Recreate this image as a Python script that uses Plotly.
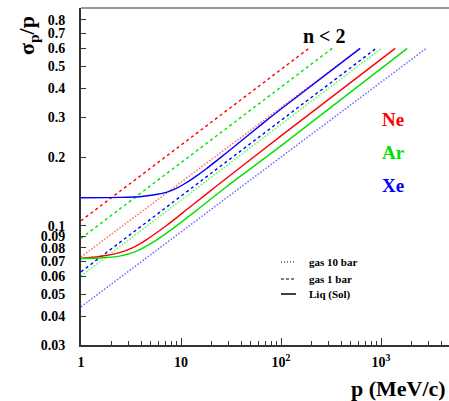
import plotly.graph_objects as go

# ---- data: momentum resolution sigma_p/p versus momentum p (MeV/c) ----
# gas at 10 bar (dotted), gas at 1 bar (dashed): straight power-law lines
ne_gas10_p = [1, 619]
ne_gas10_v = [0.073, 0.60]
ar_gas10_p = [1, 1005]
ar_gas10_v = [0.0602, 0.60]
xe_gas10_p = [1, 2832]
xe_gas10_v = [0.0441, 0.60]

ne_gas1_p = [1, 190]
ne_gas1_v = [0.1052, 0.60]
ar_gas1_p = [1, 325]
ar_gas1_v = [0.0881, 0.60]
xe_gas1_p = [1, 895]
xe_gas1_v = [0.0628, 0.60]

# liquid / solid (solid lines): scattering floor then rise
ne_liq_p = [1, 1.53, 2.43, 3.30, 4.49, 7.11, 12.2, 22.5, 100, 1387]
ne_liq_v = [0.0719, 0.0733, 0.0762, 0.0802, 0.0868, 0.1000, 0.1205, 0.1490, 0.248, 0.60]
ar_liq_p = [1, 1.53, 2.43, 3.56, 5.22, 8.28, 14.2, 28.3, 100, 1828]
ar_liq_v = [0.0719, 0.0722, 0.0736, 0.0772, 0.0845, 0.0972, 0.1165, 0.1480, 0.224, 0.60]
xe_liq_p = [1, 2.43, 3.84, 5.23, 7.13, 8.98, 11.3, 14.2, 17.8, 24.3, 30.5, 65.8, 100, 619]
xe_liq_v = [0.1327, 0.1332, 0.1341, 0.1364, 0.1401, 0.1459, 0.1544, 0.1652, 0.1775,
            0.1975, 0.2140, 0.2812, 0.325, 0.60]

y_tick_vals = [0.03, 0.04, 0.05, 0.06, 0.07, 0.08, 0.09, 0.1, 0.2, 0.3, 0.4, 0.5, 0.6, 0.7, 0.8]
y_tick_text = ["0.03", "0.04", "0.05", "0.06", "0.07", "0.08", "0.09", "0.1",
               "0.2", "0.3", "0.4", "0.5", "0.6", "0.7", "0.8"]
x_tick_vals = [1, 10, 100, 1000]
x_tick_text = ["1", "10", "10<sup>2</sup>", "10<sup>3</sup>"]

legend_labels = ["gas 10 bar", "gas 1 bar", "Liq (Sol)"]
gas_labels = ["Ne", "Ar", "Xe"]

# ---- figure geometry ----
W, H = 449, 401
L, R, T, B = 81, 0, 8, 56
PW, PH = W - L - R, H - T - B

RED, GREEN, BLUE = "#ff0000", "#00e000", "#0000ff"
RED_L, GREEN_L, BLUE_L = "#ff7070", "#55ff55", "#7070ff"
SERIF = "Liberation Serif"


def px_x(x):
    return (x - L) / PW


def px_y(y):
    return (H - B - y) / PH


fig = go.Figure()


def add(p, v, color, dash, width, shape="linear"):
    fig.add_trace(go.Scatter(x=p, y=v, mode="lines", showlegend=False,
                             hoverinfo="skip",
                             line=dict(color=color, dash=dash, width=width,
                                       shape=shape, smoothing=0.8)))


# gas 10 bar
add(ne_gas10_p, ne_gas10_v, RED_L, "1.6px,1.6px", 1.5)
add(ar_gas10_p, ar_gas10_v, GREEN_L, "1.6px,1.6px", 1.5)
add(xe_gas10_p, xe_gas10_v, BLUE_L, "1.6px,1.6px", 1.5)
# gas 1 bar
add(ne_gas1_p, ne_gas1_v, RED, "3px,3px", 1.4)
add(ar_gas1_p, ar_gas1_v, GREEN, "3px,3px", 1.4)
add(xe_gas1_p, xe_gas1_v, BLUE, "3px,3px", 1.4)
# liquid / solid
add(ne_liq_p, ne_liq_v, RED, "solid", 1.4, "spline")
add(ar_liq_p, ar_liq_v, GREEN, "solid", 1.4, "spline")
add(xe_liq_p, xe_liq_v, BLUE, "solid", 1.4, "spline")

tick_font = dict(family=SERIF, size=14, color="black", weight="bold")

fig.update_xaxes(type="log", range=[0, PW / 100.0],
                 tickvals=x_tick_vals, ticktext=x_tick_text,
                 tickfont=tick_font, ticks="inside", ticklen=7,
                 tickcolor="#333", tickwidth=1,
                 minor=dict(ticks="inside", ticklen=4, tickcolor="#333",
                            dtick="D1", showgrid=False),
                 showline=True, linecolor="#333", linewidth=2,
                 showgrid=False, zeroline=False, ticklabelstandoff=3)

fig.update_yaxes(type="log", range=[-1.5229, -1.5229 + PH / 228.0],
                 tickvals=y_tick_vals, ticktext=y_tick_text,
                 tickfont=tick_font, ticks="inside", ticklen=5,
                 tickcolor="#333", tickwidth=1,
                 showline=True, linecolor="#333", linewidth=2,
                 showgrid=False, zeroline=False, ticklabelstandoff=11)

# top frame line
fig.add_shape(type="line", xref="paper", yref="paper", x0=0, x1=1, y0=1, y1=1,
              line=dict(color="#333", width=1.2))

# legend for line styles
legend_rows = [(262, "1px,2px", 1.0), (279, "3px,2px", 1.0), (294, "solid", 1.5)]
for (yy, dash, wd), lab in zip(legend_rows, legend_labels):
    fig.add_shape(type="line", xref="paper", yref="paper",
                  x0=px_x(281), x1=px_x(296), y0=px_y(yy), y1=px_y(yy),
                  line=dict(color="black", dash=dash, width=wd))
    fig.add_annotation(xref="paper", yref="paper", x=px_x(307), y=px_y(yy),
                       text=lab, showarrow=False, xanchor="left", yanchor="middle",
                       font=dict(family=SERIF, size=11, color="black", weight="bold"))

# gas name labels
for (yy, col), lab in zip([(119, RED), (152, GREEN), (185, BLUE)], gas_labels):
    fig.add_annotation(xref="paper", yref="paper", x=px_x(393), y=px_y(yy),
                       text=lab, showarrow=False, xanchor="center", yanchor="middle",
                       font=dict(family=SERIF, size=19, color=col, weight="bold"))

fig.add_annotation(xref="paper", yref="paper", x=px_x(324), y=px_y(36),
                   text="n &lt; 2", showarrow=False, xanchor="center", yanchor="middle",
                   font=dict(family=SERIF, size=20, color="black", weight="bold"))

# axis titles
fig.add_annotation(xref="paper", yref="paper", x=px_x(448), y=px_y(388),
                   text="p (MeV/c)", showarrow=False, xanchor="right", yanchor="middle",
                   font=dict(family=SERIF, size=22, color="black", weight="bold"))
fig.add_annotation(xref="paper", yref="paper", x=px_x(28), y=px_y(36),
                   text="σ<sub>p</sub>/p", showarrow=False, textangle=-90,
                   xanchor="center", yanchor="middle",
                   font=dict(family=SERIF, size=22, color="black", weight="bold"))

fig.update_layout(width=W, height=H,
                  margin=dict(l=L, r=R, t=T, b=B, pad=0),
                  paper_bgcolor="white", plot_bgcolor="white",
                  showlegend=False)

fig.write_html("out.html")
